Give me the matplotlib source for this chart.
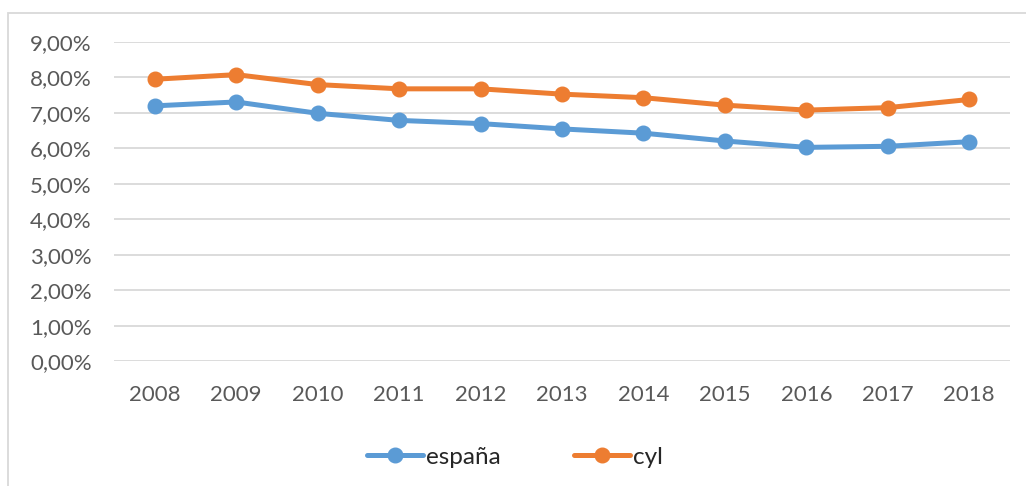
import numpy as np
import matplotlib
matplotlib.use('Agg')
import matplotlib.pyplot as plt
from matplotlib.ticker import FuncFormatter
from matplotlib.patches import Rectangle

years = ['2008', '2009', '2010', '2011', '2012', '2013', '2014', '2015', '2016', '2017', '2018']
espana = [7.20, 7.31, 6.99, 6.79, 6.70, 6.55, 6.43, 6.21, 6.03, 6.06, 6.19]
cyl = [7.95, 8.08, 7.80, 7.68, 7.68, 7.53, 7.43, 7.22, 7.08, 7.15, 7.38]

plt.rcParams['font.family'] = ['Lato', 'DejaVu Sans']
gray = '#595959'

fig = plt.figure(figsize=(10.26, 4.86), dpi=100)
ax = fig.add_axes([114/1026, 1-361.3/486, 896/1026, (361.3-42)/486])

x = np.arange(len(years))
ax.plot(x, espana, color='#5B9BD5', lw=3.6, marker='o', ms=10.5, label=u'españa', solid_capstyle='round')
ax.plot(x, cyl, color='#ED7D31', lw=3.6, marker='o', ms=10.5, label='cyl', solid_capstyle='round')

ax.set_xlim(-0.5, len(years) - 0.5)
ax.set_ylim(0, 9)
ax.set_yticks(np.arange(0, 10, 1))
ax.yaxis.set_major_formatter(FuncFormatter(lambda v, p: ('%.2f%%' % v).replace('.', ',')))
ax.set_xticks(x)
ax.set_xticklabels(years)
ax.tick_params(axis='both', length=0, labelsize=16, colors=gray)
ax.tick_params(axis='y', pad=16)
ax.tick_params(axis='x', pad=17)
ax.grid(axis='y', color='#D9D9D9', lw=1.3)
ax.set_axisbelow(True)
for s in ax.spines.values():
    s.set_visible(False)

leg = fig.legend(loc='center', bbox_to_anchor=(515/1026, 1-457/486), ncol=2, frameon=False,
                 fontsize=17.5, handlelength=2.3, columnspacing=3.0, handletextpad=0.15)
for t in leg.get_texts():
    t.set_color('#262626')

fig.patches.append(Rectangle((8/1026, -0.1), 1.2, 1-13/486+0.1, transform=fig.transFigure,
                             fill=False, edgecolor='#D9D9D9', lw=1.3))

plt.savefig('out.png', dpi=100)
